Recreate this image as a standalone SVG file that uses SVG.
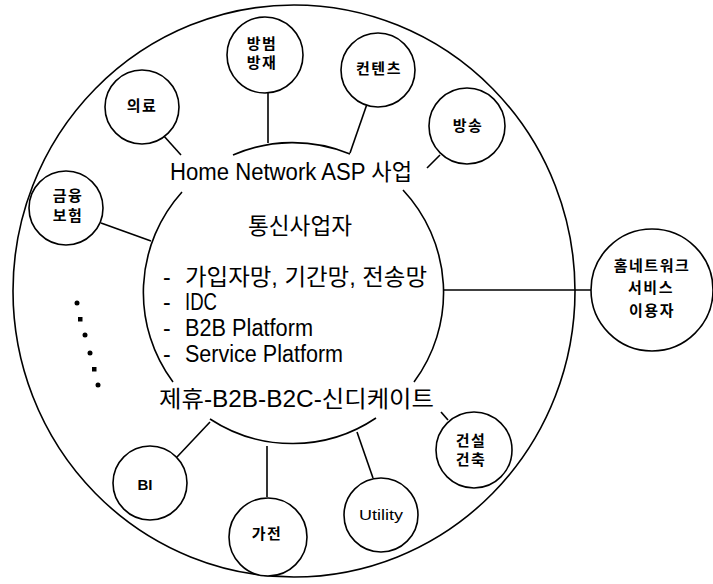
<svg xmlns="http://www.w3.org/2000/svg" width="713" height="584" viewBox="0 0 713 584">
<style>
.ln{fill:none;stroke:#000;stroke-width:1.6}
.nd{fill:#fff;stroke:#000;stroke-width:1.6}
.mt{font-family:"Liberation Sans","Noto Sans CJK KR",sans-serif;font-size:23px;fill:#000}
.kt{font-family:"Noto Sans CJK KR","Liberation Sans",sans-serif;font-size:23px;fill:#000}
.lb{font-family:"Noto Sans CJK KR","Liberation Sans",sans-serif;font-size:15px;font-weight:700;fill:#000;text-anchor:middle;letter-spacing:1.5px}
.lt{font-family:"Liberation Sans","Noto Sans CJK KR",sans-serif;font-size:14px;fill:#000;text-anchor:middle}
</style>
<rect width="713" height="584" fill="#fff"/>
<g id="outer-ring">
<ellipse class="ln" cx="294" cy="291" rx="281" ry="286"/>
</g>
<g id="connectors">
<line class="ln" x1="163" y1="135" x2="181" y2="155"/>
<line class="ln" x1="268" y1="92" x2="268" y2="143"/>
<line class="ln" x1="367" y1="104" x2="350" y2="153"/>
<line class="ln" x1="440" y1="155" x2="427" y2="168"/>
<line class="ln" x1="101" y1="223" x2="151" y2="241"/>
<line class="ln" x1="177" y1="457" x2="210" y2="422"/>
<line class="ln" x1="267" y1="446" x2="267" y2="497"/>
<line class="ln" x1="357" y1="432" x2="373" y2="478"/>
<line class="ln" x1="448" y1="420" x2="441" y2="412"/>
<line class="ln" x1="443" y1="290" x2="591" y2="290"/>
</g>
<g id="center">
<path class="ln" d="M233,155 A150,150 0 0 1 350,154"/>
<path class="ln" d="M182,192 A150,150 0 0 0 173,382"/>
<path class="ln" d="M403,190 A150,150 0 0 1 414,382"/>
<path class="ln" d="M210,419 A150,150 0 0 0 376,418"/>
<text class="mt" x="170" y="180" textLength="242" lengthAdjust="spacingAndGlyphs">Home Network ASP 사업</text>
<text class="kt" x="248" y="234" textLength="104" lengthAdjust="spacingAndGlyphs">통신사업자</text>
<text class="mt" y="285"><tspan x="163">-</tspan><tspan x="185" textLength="242" lengthAdjust="spacingAndGlyphs">가입자망, 기간망, 전송망</tspan></text>
<text class="mt" y="310"><tspan x="163">-</tspan><tspan x="185" textLength="32" lengthAdjust="spacingAndGlyphs">IDC</tspan></text>
<text class="mt" y="336"><tspan x="163">-</tspan><tspan x="185" textLength="128" lengthAdjust="spacingAndGlyphs">B2B Platform</tspan></text>
<text class="mt" y="362"><tspan x="163">-</tspan><tspan x="185" textLength="158" lengthAdjust="spacingAndGlyphs">Service Platform</tspan></text>
<text class="mt" x="159" y="407" textLength="275" lengthAdjust="spacingAndGlyphs">제휴-B2B-B2C-신디케이트</text>
</g>
<g id="node-medical">
<circle class="nd" cx="142" cy="107" r="37"/>
<text class="lb" x="142" y="110.5">의료</text>
</g>
<g id="node-security">
<circle class="nd" cx="265" cy="55" r="38"/>
<text class="lb" x="262" y="48.5">방범</text>
<text class="lb" x="262" y="67.5">방재</text>
</g>
<g id="node-contents">
<circle class="nd" cx="378" cy="70" r="37"/>
<text class="lb" x="379" y="73.5">컨텐츠</text>
</g>
<g id="node-broadcast">
<circle class="nd" cx="467" cy="126" r="38"/>
<text class="lb" x="468" y="130.5">방송</text>
</g>
<g id="node-finance">
<circle class="nd" cx="66" cy="208" r="37"/>
<text class="lb" x="68" y="200.5">금융</text>
<text class="lb" x="68" y="220.5">보험</text>
</g>
<g id="node-more">
<circle cx="77" cy="303" r="2.5" fill="#000"/>
<rect x="78" y="317" width="4.5" height="4.5" fill="#000"/>
<circle cx="85" cy="335" r="2.5" fill="#000"/>
<circle cx="90" cy="353" r="2.5" fill="#000"/>
<rect x="92" y="367" width="4.5" height="4.5" fill="#000"/>
<circle cx="98" cy="385" r="2.5" fill="#000"/>
</g>
<g id="node-bi">
<circle class="nd" cx="150" cy="483" r="37"/>
<text class="lt" x="145" y="490" style="font-size:15px;font-weight:700">BI</text>
</g>
<g id="node-appliance">
<circle class="nd" cx="268" cy="537" r="39"/>
<text class="lb" x="267" y="538.5">가전</text>
</g>
<g id="node-utility">
<circle class="nd" cx="381" cy="515" r="37"/>
<text class="lt" x="359" y="520" style="text-anchor:start" textLength="44" lengthAdjust="spacingAndGlyphs">Utility</text>
</g>
<g id="node-construction">
<circle class="nd" cx="474" cy="450" r="38"/>
<text class="lb" x="471" y="445.5">건설</text>
<text class="lb" x="471" y="464.5">건축</text>
</g>
<g id="node-user">
<circle class="nd" cx="652" cy="290" r="61"/>
<text class="lb" x="652" y="270.5">홈네트워크</text>
<text class="lb" x="651" y="292.5">서비스</text>
<text class="lb" x="652" y="315.5">이용자</text>
</g>
</svg>
